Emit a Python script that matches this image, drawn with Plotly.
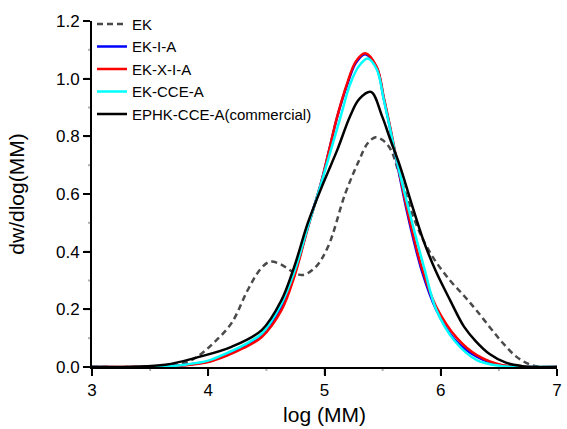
import plotly.graph_objects as go

# EK (dashed)
ek_x = [3.0, 3.6, 3.8, 3.92, 4.05, 4.2, 4.34, 4.45, 4.53, 4.62, 4.72, 4.81, 4.92, 5.03, 5.18, 5.30,
        5.37, 5.44, 5.50, 5.57, 5.64, 5.70, 5.77, 5.85, 5.95, 6.08, 6.20, 6.30, 6.42, 6.53, 6.65,
        6.76, 6.86, 7.0]
ek_y = [0.0, 0.003, 0.015, 0.04, 0.085, 0.152, 0.267, 0.34, 0.365, 0.357, 0.332, 0.319, 0.345, 0.417,
        0.603, 0.719, 0.775, 0.797, 0.787, 0.754, 0.673, 0.60, 0.515, 0.44, 0.37, 0.30, 0.247, 0.2,
        0.139, 0.085, 0.036, 0.01, 0.0, 0.0]

# EK-I-A (blue)
eki_x = [3.0, 3.6, 3.8, 4.0, 4.17, 4.3, 4.46, 4.63, 4.74, 4.86, 4.97, 5.04, 5.11, 5.20, 5.27, 5.35,
         5.45, 5.51, 5.566, 5.62, 5.72, 5.84, 5.96, 6.12, 6.31, 6.53, 6.75, 7.0]
eki_y = [0.0, 0.001, 0.007, 0.019, 0.045, 0.07, 0.11, 0.205, 0.32, 0.49, 0.638, 0.752, 0.868, 0.985,
         1.055, 1.085, 1.037, 0.93, 0.825, 0.715, 0.52, 0.33, 0.2, 0.095, 0.036, 0.005, 0.0, 0.0]

# EK-X-I-A (red)
ekx_x = [3.0, 3.6, 3.8, 4.0, 4.17, 4.3, 4.46, 4.63, 4.74, 4.86, 4.97, 5.04, 5.11, 5.20, 5.27, 5.35,
         5.45, 5.51, 5.566, 5.62, 5.72, 5.84, 5.96, 6.14, 6.31, 6.53, 6.75, 7.0]
ekx_y = [0.0, 0.001, 0.006, 0.017, 0.041, 0.065, 0.104, 0.197, 0.313, 0.487, 0.638, 0.753, 0.87, 0.99,
         1.06, 1.088, 1.04, 0.935, 0.83, 0.72, 0.53, 0.34, 0.21, 0.1, 0.041, 0.006, 0.0, 0.0]

# EK-CCE-A (cyan)
ekc_x = [3.0, 3.6, 3.8, 4.0, 4.17, 4.3, 4.46, 4.63, 4.74, 4.86, 4.97, 5.05, 5.14, 5.22, 5.29, 5.37,
         5.45, 5.51, 5.566, 5.62, 5.737, 5.86, 5.96, 6.12, 6.31, 6.53, 6.7, 7.0]
ekc_y = [0.0, 0.001, 0.008, 0.022, 0.05, 0.075, 0.116, 0.22, 0.33, 0.49, 0.635, 0.745, 0.87, 0.98,
         1.04, 1.07, 1.032, 0.927, 0.823, 0.719, 0.527, 0.34, 0.2, 0.09, 0.024, 0.003, 0.0, 0.0]

# EPHK-CCE-A(commercial) (black)
eph_x = [3.0, 3.63, 3.92, 4.2, 4.46, 4.63, 4.74, 4.856, 4.99, 5.11, 5.22, 5.30, 5.40, 5.495, 5.566,
         5.65, 5.75, 5.85, 5.96, 6.08, 6.20, 6.30, 6.42, 6.56, 6.70, 6.8, 7.0]
eph_y = [0.0, 0.008, 0.035, 0.07, 0.128, 0.232, 0.348, 0.499, 0.638, 0.753, 0.87, 0.93, 0.954, 0.87,
         0.789, 0.696, 0.565, 0.44, 0.33, 0.232, 0.14, 0.09, 0.045, 0.015, 0.003, 0.0, 0.0]

# axis ticks
X_RANGE = [3, 7]
Y_RANGE = [0, 1.2]
x_major = [3, 4, 5, 6, 7]
x_minor = [3.5, 4.5, 5.5, 6.5]
y_major = [0.0, 0.2, 0.4, 0.6, 0.8, 1.0, 1.2]
y_minor = [0.1, 0.3, 0.5, 0.7, 0.9, 1.1]
y_labels = ["0.0", "0.2", "0.4", "0.6", "0.8", "1.0", "1.2"]

FONT = "Liberation Sans, Arial, sans-serif"
MAJOR_LEN, MINOR_LEN = 8, 4

fig = go.Figure()
series = [
    ("EK", ek_x, ek_y, "#4a4a4a", "6px,4px"),
    ("EK-I-A", eki_x, eki_y, "#0000ff", "solid"),
    ("EK-X-I-A", ekx_x, ekx_y, "#ff0000", "solid"),
    ("EK-CCE-A", ekc_x, ekc_y, "#00ffff", "solid"),
    ("EPHK-CCE-A(commercial)", eph_x, eph_y, "#000000", "solid"),
]
for name, xs, ys, col, dash in series:
    fig.add_trace(go.Scatter(
        x=xs, y=ys, name=name, mode="lines",
        line=dict(color=col, width=2.5, dash=dash, shape="spline", smoothing=1.0),
    ))

# tick marks drawn as pixel-sized shapes anchored on the axes
for vals, ln in ((x_major, MAJOR_LEN), (x_minor, MINOR_LEN)):
    for v in vals:
        fig.add_shape(type="line", xref="x", yref="paper", x0=v, x1=v,
                      ysizemode="pixel", yanchor=0, y0=0, y1=-ln,
                      line=dict(color="black", width=2), layer="above")
for vals, ln in ((y_major, MAJOR_LEN), (y_minor, MINOR_LEN)):
    for v in vals:
        fig.add_shape(type="line", xref="paper", yref="y", y0=v, y1=v,
                      xsizemode="pixel", xanchor=0, x0=0, x1=-ln,
                      line=dict(color="black", width=2), layer="above")

fig.update_layout(template="simple_white")

fig.update_layout(
    xaxis=dict(
        range=X_RANGE, tickmode="array", tickvals=x_major, ticktext=[str(v) for v in x_major],
        showgrid=False, zeroline=False, showline=True, linecolor="black", linewidth=2,
        ticks="outside", ticklen=7, tickwidth=2, tickcolor="black",
        tickfont=dict(family=FONT, size=17, color="black"),
        title=dict(text="log (MM)", font=dict(family=FONT, size=21, color="black"), standoff=8),
        automargin=True,
    ),
    yaxis=dict(
        range=Y_RANGE, tickmode="array", tickvals=y_major, ticktext=y_labels,
        showgrid=False, zeroline=False, showline=True, linecolor="black", linewidth=2,
        ticks="outside", ticklen=7, tickwidth=2, tickcolor="black",
        tickfont=dict(family=FONT, size=17, color="black"),
        title=dict(text="dw/dlog(MM)", font=dict(family=FONT, size=21, color="black"), standoff=26),
        automargin=True,
    ),
    width=567, height=429,
    margin=dict(l=92, r=5, t=21, b=62),
    plot_bgcolor="white", paper_bgcolor="white",
    font=dict(family=FONT, color="black"),
    legend=dict(
        x=0.0, y=1.038, xanchor="left", yanchor="top",
        bgcolor="rgba(0,0,0,0)", borderwidth=0,
        font=dict(family=FONT, size=15, color="black"),
        tracegroupgap=0, itemwidth=30,
    ),
)

fig.write_html("out.html")
